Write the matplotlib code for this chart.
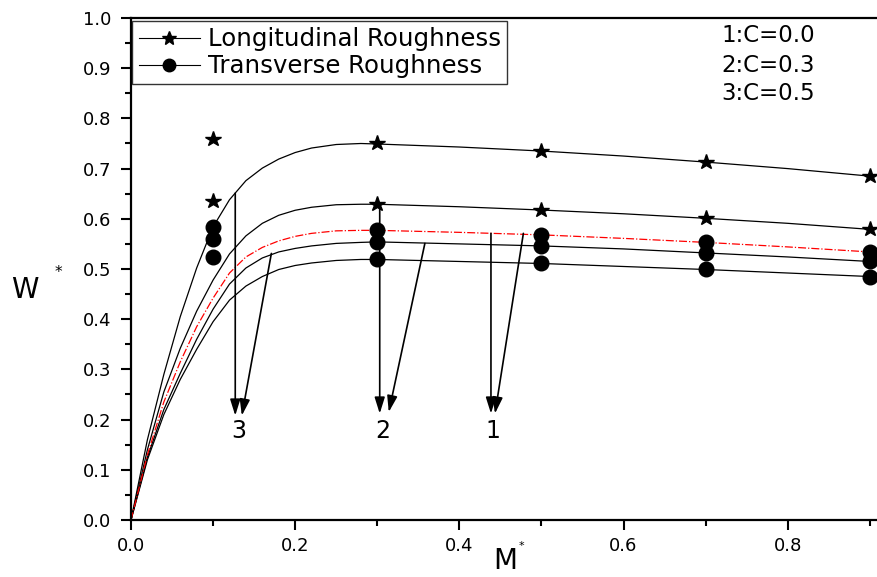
import matplotlib
matplotlib.use("Agg")
import matplotlib.pyplot as plt
from matplotlib.ticker import MultipleLocator

plt.rcParams['font.family'] = ['DejaVu Sans']

# smooth curves
M_curve = [0, 0.02, 0.04, 0.06, 0.08, 0.10, 0.12, 0.14, 0.16, 0.18, 0.20,
           0.22, 0.25, 0.28, 0.30, 0.40, 0.50, 0.60, 0.70, 0.80, 0.90]
W_c1 = [0, 0.160, 0.290, 0.405, 0.502, 0.584, 0.638, 0.676, 0.701, 0.719, 0.732,
        0.741, 0.748, 0.750, 0.749, 0.743, 0.735, 0.725, 0.713, 0.700, 0.685]
W_c2 = [0, 0.140, 0.255, 0.342, 0.416, 0.478, 0.530, 0.566, 0.591, 0.607, 0.617,
        0.623, 0.628, 0.629, 0.629, 0.624, 0.6175, 0.610, 0.601, 0.591, 0.579]
W_red = [0, 0.130, 0.235, 0.315, 0.385, 0.442, 0.492, 0.524, 0.543, 0.556, 0.565,
         0.571, 0.576, 0.577, 0.577, 0.573, 0.568, 0.561, 0.553, 0.544, 0.534]
W_c4 = [0, 0.125, 0.220, 0.292, 0.360, 0.420, 0.470, 0.502, 0.522, 0.534, 0.541,
        0.546, 0.551, 0.553, 0.554, 0.550, 0.546, 0.540, 0.532, 0.524, 0.515]
W_c5 = [0, 0.120, 0.210, 0.280, 0.340, 0.395, 0.438, 0.466, 0.485, 0.499, 0.507,
        0.512, 0.517, 0.519, 0.519, 0.515, 0.511, 0.505, 0.499, 0.492, 0.485]

# symbols
M_pts = [0.1, 0.3, 0.5, 0.7, 0.9]
long_hi = [0.758, 0.750, 0.735, 0.713, 0.685]
long_lo = [0.635, 0.629, 0.6175, 0.601, 0.579]
trans_hi = [0.583, 0.578, 0.568, 0.553, 0.534]
trans_mid = [0.560, 0.554, 0.546, 0.532, 0.515]
trans_lo = [0.523, 0.519, 0.511, 0.499, 0.485]

fig = plt.figure(figsize=(8.78, 5.77), dpi=100)
ax = fig.add_axes([0.1492, 0.0988, 0.8508, 0.870])

for w in (W_c1, W_c2, W_c4, W_c5):
    ax.plot(M_curve, w, color='black', lw=0.9)
ax.plot(M_curve, W_red, color='red', lw=0.9, ls='-.')

for w in (long_hi, long_lo):
    ax.plot(M_pts, w, ls='none', marker='*', ms=11.5, color='black', clip_on=False)
for w in (trans_hi, trans_mid, trans_lo):
    ax.plot(M_pts, w, ls='none', marker='o', ms=10.5, color='black', clip_on=False)

# arrows to the labels
arr = dict(arrowstyle='-|>,head_length=0.7,head_width=0.22', color='black',
           lw=1.2, shrinkA=0, shrinkB=0, mutation_scale=14)
for (x0, y0), (x1, y1) in [((0.127, 0.651), (0.127, 0.208)),
                           ((0.171, 0.531), (0.135, 0.208)),
                           ((0.303, 0.629), (0.303, 0.212)),
                           ((0.358, 0.551), (0.314, 0.215)),
                           ((0.4385, 0.571), (0.4385, 0.212)),
                           ((0.478, 0.571), (0.4434, 0.212))]:
    ax.annotate('', xy=(x1, y1), xytext=(x0, y0), arrowprops=arr)
for lab, x in [('3', 0.1307), ('2', 0.307), ('1', 0.441)]:
    ax.text(x, 0.178, lab, fontsize=17, ha='center', va='center')

for i, s in enumerate(['1:C=0.0', '2:C=0.3', '3:C=0.5']):
    fig.text(768 / 878, 1 - (36 + 29 * i) / 577, s, fontsize=16.5,
             ha='center', va='center')

ax.set_xlim(0, 0.91)
ax.set_ylim(0, 1.0)
ax.xaxis.set_major_locator(MultipleLocator(0.2))
ax.xaxis.set_minor_locator(MultipleLocator(0.1))
ax.yaxis.set_major_locator(MultipleLocator(0.1))
ax.yaxis.set_minor_locator(MultipleLocator(0.05))
ax.xaxis.set_major_formatter(plt.FormatStrFormatter('%.1f'))
ax.yaxis.set_major_formatter(plt.FormatStrFormatter('%.1f'))
ax.tick_params(which='major', length=7, width=1.5, labelsize=13)
ax.tick_params(which='minor', length=4, width=1.5)
ax.tick_params(axis='y', which='major', pad=7)
ax.tick_params(axis='x', which='major', pad=5)
ax.spines['right'].set_visible(False)
for s in ('left', 'bottom', 'top'):
    ax.spines[s].set_linewidth(1.6)

fig.text(25 / 878, 1 - 290 / 577, 'W', fontsize=20, ha='center', va='center')
fig.text(58 / 878, 1 - 272 / 577, '*', fontsize=11, ha='center', va='center')
fig.text(505 / 878, 1 - 561 / 577, 'M', fontsize=20, ha='center', va='center')
fig.text(521 / 878, 1 - 546 / 577, '*', fontsize=8, ha='center', va='center')

h1, = ax.plot([], [], color='black', lw=0.8, marker='*', ms=10)
h2, = ax.plot([], [], color='black', lw=0.8, marker='o', ms=9)
leg = ax.legend([h1, h2], ['Longitudinal Roughness', 'Transverse Roughness'],
                loc='upper left', bbox_to_anchor=(0.002, 0.994), fontsize=17.6,
                frameon=True, fancybox=False, edgecolor='black',
                borderaxespad=0, handlelength=2.5, handletextpad=0.33,
                labelspacing=0.12, borderpad=0.25)
leg.get_frame().set_linewidth(1.0)

fig.savefig('out.png', dpi=100)
